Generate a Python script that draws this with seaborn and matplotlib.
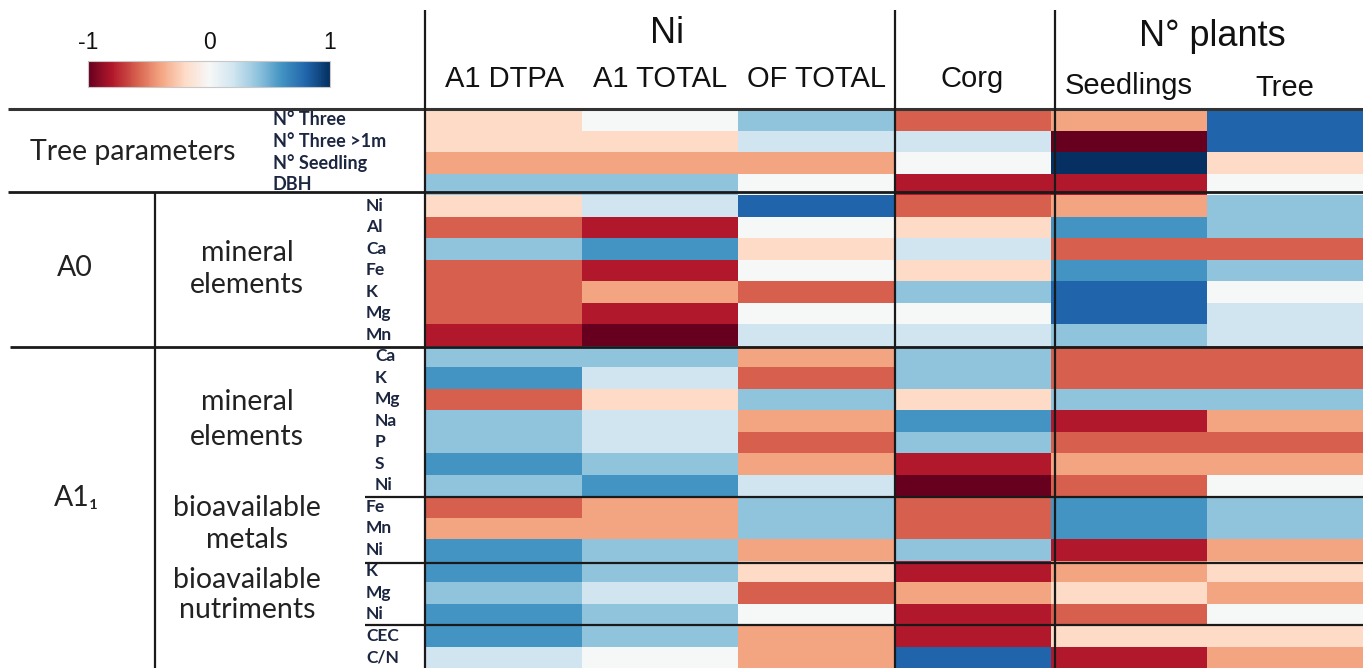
import numpy as np
import pandas as pd
import matplotlib
matplotlib.use("Agg")
import matplotlib.pyplot as plt
import seaborn as sns
from matplotlib.lines import Line2D
from matplotlib import transforms

# ---------------- data ----------------
columns = ["A1 DTPA", "A1 TOTAL", "OF TOTAL", "Corg", "Seedlings", "Tree"]

tree_rows = ["N° Three", "N° Three >1m", "N° Seedling", "DBH"]
tree_vals = [
    [-0.2, 0.0, 0.4, -0.6, -0.4, 0.8],
    [-0.2, -0.2, 0.2, 0.2, -1.0, 0.8],
    [-0.4, -0.4, -0.4, 0.0, 1.0, -0.2],
    [0.4, 0.4, 0.0, -0.8, -0.8, 0.0],
]

a0_rows = ["Ni", "Al", "Ca", "Fe", "K", "Mg", "Mn"]
a0_vals = [
    [-0.2, 0.2, 0.8, -0.6, -0.4, 0.4],
    [-0.6, -0.8, 0.0, -0.2, 0.6, 0.4],
    [0.4, 0.6, -0.2, 0.2, -0.6, -0.6],
    [-0.6, -0.8, 0.0, -0.2, 0.6, 0.4],
    [-0.6, -0.4, -0.6, 0.4, 0.8, 0.0],
    [-0.6, -0.8, 0.0, 0.0, 0.8, 0.2],
    [-0.8, -1.0, 0.2, 0.2, 0.4, 0.2],
]

a1_min_rows = ["Ca", "K", "Mg", "Na", "P", "S", "Ni"]
a1_min_vals = [
    [0.4, 0.4, -0.4, 0.4, -0.6, -0.6],
    [0.6, 0.2, -0.6, 0.4, -0.6, -0.6],
    [-0.6, -0.2, 0.4, -0.2, 0.4, 0.4],
    [0.4, 0.2, -0.4, 0.6, -0.8, -0.4],
    [0.4, 0.2, -0.6, 0.4, -0.6, -0.6],
    [0.6, 0.4, -0.4, -0.8, -0.4, -0.4],
    [0.4, 0.6, 0.2, -1.0, -0.6, 0.0],
]

bio_met_rows = ["Fe", "Mn", "Ni"]
bio_met_vals = [
    [-0.6, -0.4, 0.4, -0.6, 0.6, 0.4],
    [-0.4, -0.4, 0.4, -0.6, 0.6, 0.4],
    [0.6, 0.4, -0.4, 0.4, -0.8, -0.4],
]

bio_nut_rows = ["K", "Mg", "Ni"]
bio_nut_vals = [
    [0.6, 0.4, -0.2, -0.8, -0.4, -0.2],
    [0.4, 0.2, -0.6, -0.4, -0.2, -0.4],
    [0.6, 0.4, 0.0, -0.8, -0.6, 0.0],
]

other_rows = ["CEC", "C/N"]
other_vals = [
    [0.6, 0.4, -0.4, -0.8, -0.2, -0.2],
    [0.2, 0.0, -0.4, 0.8, -0.8, -0.4],
]

row_labels = tree_rows + a0_rows + a1_min_rows + bio_met_rows + bio_nut_rows + other_rows
values = tree_vals + a0_vals + a1_min_vals + bio_met_vals + bio_nut_vals + other_vals
df = pd.DataFrame(values, columns=columns)

# ---------------- figure ----------------
W, H = 1363, 668
plt.rcParams["axes.unicode_minus"] = False

def fx(x):
    return x / W

def fy(y):
    return 1 - y / H

fig = plt.figure(figsize=(W / 100, H / 100), dpi=100)
ax = fig.add_axes([fx(426), 0, fx(W - 426), 559 / H])
cax = fig.add_axes([fx(88), fy(87), fx(330 - 88), 26 / H])

sns.heatmap(df, ax=ax, cmap="RdBu", vmin=-1, vmax=1, cbar_ax=cax,
            cbar_kws=dict(orientation="horizontal", ticks=[-1, 0, 1]),
            xticklabels=False, yticklabels=False)
ax.set_xlabel("")
ax.set_ylabel("")

cb = ax.collections[0].colorbar
cax.xaxis.set_ticks_position("top")
cax.tick_params(length=0, pad=5)
for t in cax.get_xticklabels():
    t.set_fontsize(16.5)
    t.set_family("Liberation Sans")
    t.set_color("#111111")
cb.outline.set_edgecolor("#c8c8c8")
cb.outline.set_linewidth(0.8)

# ---------------- header text ----------------
hfont = dict(family="Liberation Sans", color="#111111")
fig.text(fx(667), fy(43), "Ni", fontsize=26, ha="center", va="baseline", **hfont)
fig.text(fx(1212), fy(46), "N° plants", fontsize=26, ha="center", va="baseline", **hfont)

bt = transforms.blended_transform_factory(ax.transData, fig.transFigure)
col_base = [87, 87, 87, 87, 94, 96]
for j, (name, yb) in enumerate(zip(columns, col_base)):
    ax.text(j + 0.5, fy(yb), name, transform=bt, fontsize=21, ha="center",
            va="baseline", clip_on=False, **hfont)

# ---------------- row labels ----------------
lt = transforms.blended_transform_factory(fig.transFigure, ax.transData)
lfont = dict(family=["Lato", "DejaVu Sans"], color="#1c2640")
xs = [273] * 4 + [366] * 7 + [375] * 7 + [366] * 8
sizes = [13] * 4 + [12.5] * 22
for i, (lab, x, s) in enumerate(zip(row_labels, xs, sizes)):
    ax.text(fx(x), i + 0.5, lab, transform=lt, fontsize=s, fontweight="bold",
            ha="left", va="center", clip_on=False, **lfont)

gfont = dict(family=["Lato", "DejaVu Sans"], color="#222222", fontsize=20.5)
fig.text(fx(133), fy(152), "Tree parameters", ha="center", va="center", **gfont)
fig.text(fx(75), fy(268), "A0", ha="center", va="center", **gfont)
fig.text(fx(77), fy(498), "A1\u2081", ha="center", va="center", **gfont)
for txt, y in [("mineral", 253), ("elements", 285), ("mineral", 402), ("elements", 437),
               ("bioavailable", 508), ("metals", 540), ("bioavailable", 580),
               ("nutriments", 610)]:
    fig.text(fx(247), fy(y), txt, ha="center", va="center", **gfont)

# ---------------- grid lines ----------------
def hline(y, x0, x1, lw=2.0, c="#1a1a1a"):
    fig.add_artist(Line2D([fx(x0), fx(x1)], [fy(y), fy(y)], transform=fig.transFigure,
                          color=c, lw=lw, solid_capstyle="butt"))

def vline(x, y0, y1, lw=1.6, c="#1a1a1a"):
    fig.add_artist(Line2D([fx(x), fx(x)], [fy(y0), fy(y1)], transform=fig.transFigure,
                          color=c, lw=lw, solid_capstyle="butt"))

hline(109, 8, W, lw=2.2, c="#333333")
hline(192, 8, W)
hline(347, 10, W)
for y in [497, 563, 625]:
    hline(y, 365, W, lw=1.6)
vline(155, 192, H)
for x in [425, 895, 1055]:
    vline(x, 10, H)

fig.savefig("out.png", dpi=100)
